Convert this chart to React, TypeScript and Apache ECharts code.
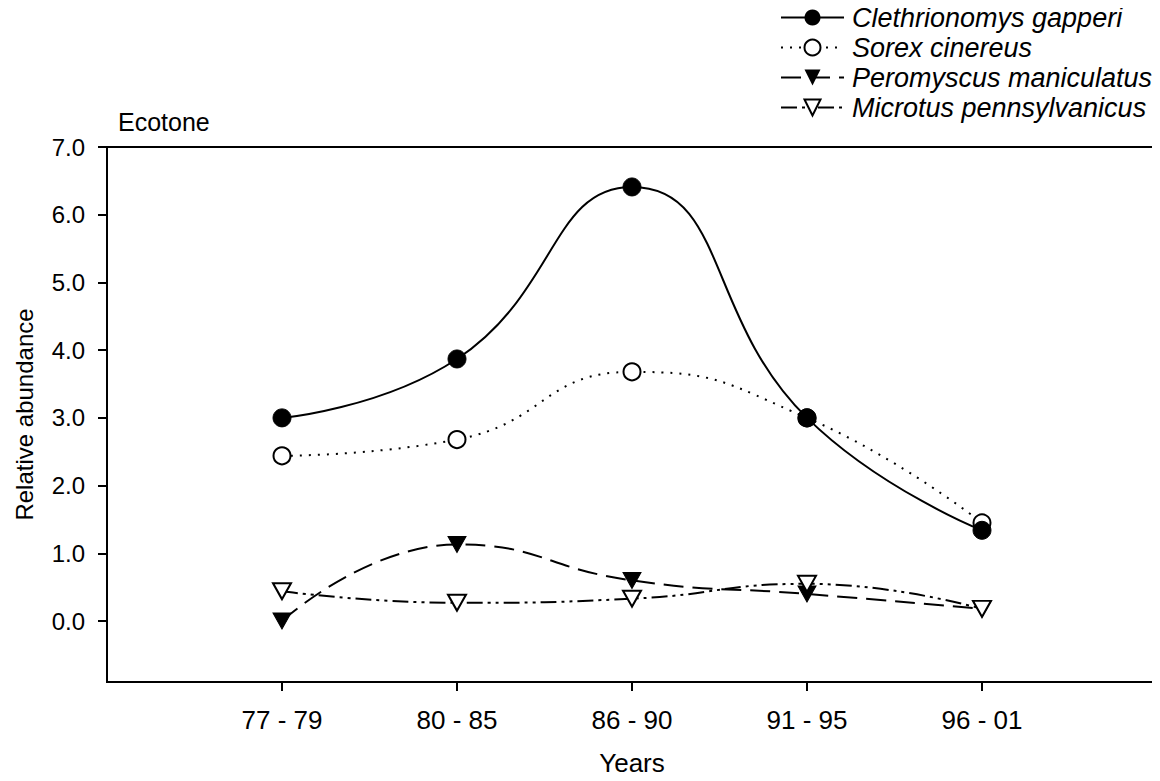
import React, { useEffect, useRef } from "react";
import * as echarts from "echarts";

const periods = ["77 - 79", "80 - 85", "86 - 90", "91 - 95", "96 - 01"];
const clethrionomys = [3.0, 3.87, 6.41, 3.0, 1.34];
const sorex = [2.44, 2.68, 3.68, 3.0, 1.45];
const peromyscus = [0.0, 1.13, 0.6, 0.4, 0.18];
const microtus = [0.44, 0.27, 0.33, 0.55, 0.18];
const yTicks = [0, 1, 2, 3, 4, 5, 6, 7];

const FONT = "Liberation Sans, Arial, sans-serif";

export default function App() {
  const ref = useRef<HTMLDivElement>(null);
  useEffect(() => {
    const chart = echarts.init(ref.current!, null, { renderer: "svg" });
    const toPts = (arr: number[]) => arr.map((v, i) => [i + 1, v]);
    const xPos = periods.map((_, i) => i + 1);
    chart.setOption({
      animation: false,
      backgroundColor: "#fff",
      grid: {
        left: 107,
        right: 3,
        top: 147,
        bottom: 96,
        show: true,
        borderColor: "#000",
        borderWidth: 2,
      },
      legend: {
        orient: "vertical",
        left: 775,
        top: -1,
        itemWidth: 63,
        itemHeight: 20,
        itemGap: 3,
        textStyle: {
          fontFamily: FONT,
          fontStyle: "italic",
          fontSize: 27,
          color: "#000",
          padding: [0, 0, 0, 3],
        },
        data: [
          "Clethrionomys gapperi",
          "Sorex cinereus",
          "Peromyscus maniculatus",
          "Microtus pennsylvanicus",
        ],
      },
      graphic: [
        {
          type: "text",
          left: 118,
          top: 109,
          style: { text: "Ecotone", font: `25px ${FONT}`, fill: "#000" },
        },
      ],
      xAxis: {
        type: "value",
        min: 0,
        max: 6,
        splitLine: { show: false },
        name: "Years",
        nameLocation: "middle",
        nameGap: 68,
        nameTextStyle: { fontFamily: FONT, fontSize: 26, color: "#000" },
        axisLine: { onZero: false, lineStyle: { color: "#000", width: 2 } },
        axisTick: {
          length: 9,
          lineStyle: { color: "#000", width: 2 },
          customValues: xPos,
        },
        axisLabel: {
          customValues: xPos,
          margin: 25,
          fontFamily: FONT,
          fontSize: 26,
          color: "#000",
          formatter: (v: number) => periods[Math.round(v) - 1] ?? "",
        },
      },
      yAxis: {
        type: "value",
        min: -0.9,
        max: 7,
        splitLine: { show: false },
        name: "Relative abundance",
        nameLocation: "middle",
        nameGap: 71,
        nameTextStyle: { fontFamily: FONT, fontSize: 24, color: "#000" },
        axisLine: { onZero: false, lineStyle: { color: "#000", width: 2 } },
        axisTick: {
          length: 9,
          lineStyle: { color: "#000", width: 2 },
          customValues: yTicks,
        },
        axisLabel: {
          customValues: yTicks,
          margin: 22,
          fontFamily: FONT,
          fontSize: 24,
          color: "#000",
          formatter: (v: number) => v.toFixed(1),
        },
      },
      series: [
        {
          name: "Peromyscus maniculatus",
          type: "line",
          smooth: 0.5,
          data: toPts(peromyscus),
          symbol: "triangle",
          symbolRotate: 180,
          symbolSize: [18, 16],
          itemStyle: { color: "#000", borderColor: "#000" },
          lineStyle: { color: "#000", width: 2, type: [20, 9] },
          z: 2,
        },
        {
          name: "Microtus pennsylvanicus",
          type: "line",
          smooth: 0.5,
          data: toPts(microtus),
          symbol: "triangle",
          symbolRotate: 180,
          symbolSize: [18, 16],
          itemStyle: { color: "#fff", borderColor: "#000", borderWidth: 2 },
          lineStyle: { color: "#000", width: 2, type: [16, 5, 3, 5, 3, 5] },
          z: 3,
        },
        {
          name: "Sorex cinereus",
          type: "line",
          smooth: 0.5,
          data: toPts(sorex),
          symbol: "circle",
          symbolSize: 17,
          itemStyle: { color: "#fff", borderColor: "#000", borderWidth: 2 },
          lineStyle: { color: "#000", width: 2, type: [2, 7] },
          z: 4,
        },
        {
          name: "Clethrionomys gapperi",
          type: "line",
          smooth: 0.5,
          data: toPts(clethrionomys),
          symbol: "circle",
          symbolSize: 18,
          itemStyle: { color: "#000", borderColor: "#000" },
          lineStyle: { color: "#000", width: 2, type: "solid" },
          z: 5,
        },
      ],
    });
    return () => chart.dispose();
  }, []);
  return <div ref={ref} style={{ width: 1160, height: 781, margin: -8 }} />;
}
